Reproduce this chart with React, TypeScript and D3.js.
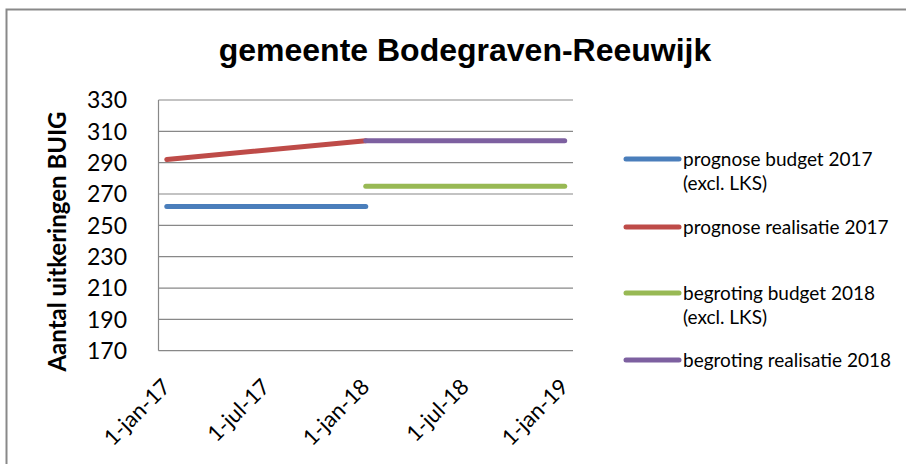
import React from "react";
import * as d3 from "d3";

const chartTitle = "gemeente Bodegraven-Reeuwijk";
const yAxisTitle = "Aantal uitkeringen BUIG";
const yTicks = [170, 190, 210, 230, 250, 270, 290, 310, 330];
const xTickDates = ["2017-01-01", "2017-07-01", "2018-01-01", "2018-07-01", "2019-01-01"];
const xTickLabels = ["1-jan-17", "1-jul-17", "1-jan-18", "1-jul-18", "1-jan-19"];
const xDomainDates = ["2017-01-01", "2019-01-01"];

const seriesLabels = [
  ["prognose budget 2017", "(excl. LKS)"],
  ["prognose realisatie 2017"],
  ["begroting budget 2018", "(excl. LKS)"],
  ["begroting realisatie 2018"],
];
const seriesColors = ["#4A7EBB", "#BE4B48", "#98B954", "#7D60A0"];

const budget2017Dates = ["2017-01-01", "2018-01-01"];
const budget2017Values = [262, 262];
const realisatie2017Dates = ["2017-01-01", "2018-01-01"];
const realisatie2017Values = [292, 304];
const budget2018Dates = ["2018-01-01", "2019-01-01"];
const budget2018Values = [275, 275];
const realisatie2018Dates = ["2018-01-01", "2019-01-01"];
const realisatie2018Values = [304, 304];

const seriesDates = [budget2017Dates, realisatie2017Dates, budget2018Dates, realisatie2018Dates];
const seriesValues = [budget2017Values, realisatie2017Values, budget2018Values, realisatie2018Values];

const W = 906;
const H = 464;
const plot = { left: 158.5, right: 573, top: 100, bottom: 350.7 };
const legendY = [159, 227, 293, 360];

const parse = d3.timeParse("%Y-%m-%d");
const start = parse(xDomainDates[0]) as Date;
const monthIdx = (s: string) => d3.timeMonth.count(start, parse(s) as Date);

export default function App() {
  const nMonths = monthIdx(xDomainDates[1]) + 1;
  const x = d3.scaleLinear().domain([-0.5, nMonths - 0.5]).range([plot.left, plot.right]);
  const y = d3.scaleLinear().domain([170, 330]).range([plot.bottom, plot.top]);
  const line = d3
    .line<[number, number]>()
    .x((d) => x(d[0]))
    .y((d) => y(d[1]));

  const gridColor = "#888888";
  const font = "Lato, 'Open Sans', sans-serif";

  return (
    <svg
      width={W}
      height={H}
      style={{ position: "absolute", left: 0, top: 0, background: "#fff" }}
    >
      <rect x={0} y={0} width={W} height={H} fill="#fff" />
      <rect x={6.5} y={9.5} width={W + 20} height={H + 20} fill="none" stroke="#898989" strokeWidth={2} />
      <text
        x={465}
        y={61}
        textAnchor="middle"
        fontFamily="'Liberation Sans', Arial, sans-serif"
        fontWeight="bold"
        fontSize={32}
        fill="#000"
      >
        {chartTitle}
      </text>

      {yTicks.map((t) => (
        <line key={"g" + t} x1={plot.left} x2={plot.right} y1={y(t)} y2={y(t)} stroke={gridColor} strokeWidth={1.2} />
      ))}
      <line x1={plot.left} x2={plot.left} y1={plot.top} y2={plot.bottom} stroke={gridColor} strokeWidth={1.2} />

      {yTicks.map((t) => (
        <text key={"yl" + t} x={127} y={y(t)} dy="0.36em" textAnchor="end" fontFamily={font} fontSize={23} fill="#000">
          {t}
        </text>
      ))}

      <text
        transform={`translate(66,241.5) rotate(-90)`}
        textAnchor="middle"
        fontFamily={font}
        fontWeight="bold"
        fontSize={24}
        fill="#000"
      >
        {yAxisTitle}
      </text>

      {xTickDates.map((d, i) => {
        const px = x(monthIdx(d)) + 5;
        const py = plot.bottom + 37.5;
        return (
          <text
            key={"xl" + d}
            transform={`translate(${px},${py}) rotate(-45)`}
            textAnchor="end"
            fontFamily={font}
            fontSize={22}
            fill="#000"
          >
            {xTickLabels[i]}
          </text>
        );
      })}

      {seriesValues.map((vals, si) => {
        const pts: [number, number][] = vals.map((v, j) => [monthIdx(seriesDates[si][j]), v]);
        return (
          <path
            key={"s" + si}
            d={line(pts) || ""}
            fill="none"
            stroke={seriesColors[si]}
            strokeWidth={5}
            strokeLinecap="round"
            strokeLinejoin="round"
          />
        );
      })}

      {seriesLabels.map((lines, si) => (
        <g key={"lg" + si}>
          <line x1={626} x2={679} y1={legendY[si]} y2={legendY[si]} stroke={seriesColors[si]} strokeWidth={5} strokeLinecap="round" />
          {lines.map((l, k) => (
            <text key={k} x={683} y={legendY[si] + k * 24} dy="0.36em" fontFamily={font} fontSize={19} fill="#000">
              {l}
            </text>
          ))}
        </g>
      ))}
    </svg>
  );
}
